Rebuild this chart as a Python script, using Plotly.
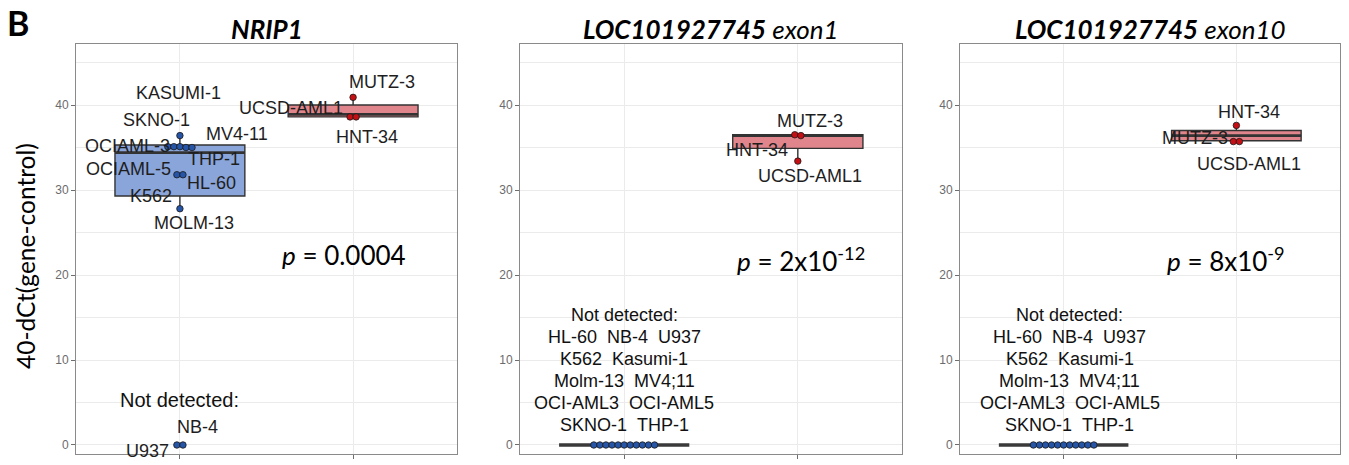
import numpy as np
import plotly.graph_objects as go

# ---------------- data ----------------
panel_genes = ["NRIP1", "LOC101927745", "LOC101927745"]
panel_regions = ["", "exon1", "exon10"]
p_labels = ["0.0004", "2x10<sup>-12</sup>", "8x10<sup>-9</sup>"]

# group 1 (blue) cell lines
blue_names = ["KASUMI-1", "SKNO-1", "OCIAML-3", "MV4-11", "THP-1", "K562",
              "OCIAML-5", "HL-60", "MOLM-13", "NB-4", "U937"]
nrip1_blue = [36.4, 35.1, 35.1, 35.1, 35.0, 35.0, 31.8, 31.8, 27.8, 0.0, 0.0]
exon1_blue = [0.0, 0.0, 0.0, 0.0, 0.0, 0.0, 0.0, 0.0, 0.0, 0.0, 0.0]
exon10_blue = [0.0, 0.0, 0.0, 0.0, 0.0, 0.0, 0.0, 0.0, 0.0, 0.0, 0.0]

# group 2 (red) cell lines
red_names = ["MUTZ-3", "UCSD-AML1", "HNT-34"]
nrip1_red = [40.9, 38.6, 38.6]
exon1_red = [36.5, 33.4, 36.4]
exon10_red = [35.7, 35.7, 37.6]

# box summaries: q1, median, q3, lower whisker, upper whisker
nrip1_blue_box = [29.3, 34.4, 35.3, 27.8, 36.4]
nrip1_red_box = [38.6, 38.9, 40.0, 38.6, 40.9]
exon1_blue_box = [0.0, 0.0, 0.0, 0.0, 0.0]
exon1_red_box = [34.9, 36.4, 36.5, 33.4, 36.5]
exon10_blue_box = [0.0, 0.0, 0.0, 0.0, 0.0]
exon10_red_box = [35.8, 36.4, 37.0, 35.7, 37.6]

not_detected_lines = ["HL-60  NB-4  U937", "K562  Kasumi-1", "Molm-13  MV4;11",
                      "OCI-AML3  OCI-AML5", "SKNO-1  THP-1"]

y_ticks = [0, 10, 20, 30, 40]
y_axis_title = "40-dCt(gene-control)"

panels = [
    dict(blue=nrip1_blue, red=nrip1_red, blue_box=nrip1_blue_box, red_box=nrip1_red_box),
    dict(blue=exon1_blue, red=exon1_red, blue_box=exon1_blue_box, red_box=exon1_red_box),
    dict(blue=exon10_blue, red=exon10_red, blue_box=exon10_blue_box, red_box=exon10_red_box),
]

# ---------------- label placement (pixel shifts from each point) ----------------
label_shift = [
    {  # NRIP1
        "KASUMI-1": (-1, 43), "SKNO-1": (-23, 27), "OCIAML-3": (-52, 1),
        "MV4-11": (57, 13), "THP-1": (34, -11), "K562": (-29, -48),
        "OCIAML-5": (-51, 6), "HL-60": (32, -8), "MOLM-13": (14, -14),
        "NB-4": (18, 18), "U937": (-32, -6),
        "MUTZ-3": (29, 15), "UCSD-AML1": (-62, 9), "HNT-34": (14, -20),
    },
    {"MUTZ-3": (12, 14), "HNT-34": (-41, -14), "UCSD-AML1": (12, -15)},
    {"HNT-34": (13, 13), "MUTZ-3": (-41, 4), "UCSD-AML1": (13, -22)},
]

# ---------------- layout geometry ----------------
W, H = 1349, 465
x_px = [(76, 457), (520, 902), (960, 1340)]
y_px = (44, 454)
x_range = [0.4, 2.6]
y_range = [-1.06, 47.18]
box_width = 0.75
dot_step = 0.035

BLUE_FILL = "#8aa5da"
RED_FILL = "#e0858b"
BLUE_DOT = "#2654a6"
RED_DOT = "#c40f14"
EDGE = "#333333"
GRID = "#ebebeb"
LABEL_FONT = "Liberation Sans, Arial, sans-serif"
HEAD_FONT = "Lato, Carlito, sans-serif"


def swarm_offsets(values, step, tol=0.5):
    """Spread points that share (almost) the same value side by side."""
    vals = np.asarray(values, dtype=float)
    order = np.argsort(-vals, kind="stable")
    offs = np.zeros(len(vals))
    groups, cur = [], [order[0]]
    for idx in order[1:]:
        if abs(vals[idx] - vals[cur[0]]) <= tol:
            cur.append(idx)
        else:
            groups.append(cur)
            cur = [idx]
    groups.append(cur)
    for g in groups:
        n = len(g)
        for k, idx in enumerate(g):
            offs[idx] = (k - (n - 1) / 2) * step
    return offs


fig = go.Figure()
annotations = []

for i, pdata in enumerate(panels):
    sfx = "" if i == 0 else str(i + 1)
    xa, ya = "x" + sfx, "y" + sfx

    for pos, stats, fill in [(1, pdata["blue_box"], BLUE_FILL),
                             (2, pdata["red_box"], RED_FILL)]:
        flat = stats[0] == stats[2]
        fig.add_trace(go.Box(
            x=[pos], q1=[stats[0]], median=[stats[1]], q3=[stats[2]],
            lowerfence=[stats[3]], upperfence=[stats[4]],
            width=box_width, fillcolor=fill,
            line=dict(color="#3a3a3a" if flat else EDGE, width=3.5 if flat else 1.4),
            whiskerwidth=0, boxpoints=False, showlegend=False, hoverinfo="skip",
            xaxis=xa, yaxis=ya,
        ))
        if not flat:
            # heavier median bar
            fig.add_trace(go.Scatter(
                x=[pos - box_width / 2, pos + box_width / 2], y=[stats[1], stats[1]],
                mode="lines", line=dict(color=EDGE, width=2.6),
                showlegend=False, hoverinfo="skip", xaxis=xa, yaxis=ya,
            ))

    for pos, names, vals, col in [(1, blue_names, pdata["blue"], BLUE_DOT),
                                  (2, red_names, pdata["red"], RED_DOT)]:
        offs = swarm_offsets(vals, dot_step)
        fig.add_trace(go.Scatter(
            x=pos + offs, y=vals, mode="markers",
            marker=dict(size=6.5, color=col, line=dict(color="#1a1a1a", width=0.8)),
            showlegend=False, hoverinfo="skip", xaxis=xa, yaxis=ya,
        ))
        for name, v in zip(names, vals):
            if name in label_shift[i]:
                dx, dy = label_shift[i][name]
                annotations.append(dict(
                    x=pos, y=v, xref=xa, yref=ya, text=name, showarrow=False,
                    xshift=dx, yshift=dy, xanchor="center", yanchor="middle",
                    font=dict(family=LABEL_FONT, size=18, color="#1e1e1e"),
                ))

    # "Not detected" notes
    if i == 0:
        annotations.append(dict(
            x=1, y=0, xref=xa, yref=ya, text="Not detected:", showarrow=False,
            yshift=45, xanchor="center", yanchor="middle",
            font=dict(family=LABEL_FONT, size=20, color="#111111"),
        ))
    else:
        lines = ["Not detected:"] + not_detected_lines
        n = len(lines)
        for k, line in enumerate(lines):
            annotations.append(dict(
                x=1, y=0, xref=xa, yref=ya, text=line.replace("  ", "\u00a0\u00a0"),
                showarrow=False, xshift=0 if i == 1 else 6,
                yshift=19.5 + 22 * (n - 1 - k), xanchor="center", yanchor="middle",
                font=dict(family=LABEL_FONT, size=18, color="#111111"),
            ))

    # p value
    px_pos = [(1.95, 22.4), (2.02, 21.8), (1.94, 21.8)][i]
    annotations.append(dict(
        x=px_pos[0], y=px_pos[1], xref=xa, yref=ya,
        text="<i>p</i> = " + p_labels[i], showarrow=False,
        xanchor="center", yanchor="middle",
        font=dict(family=HEAD_FONT, size=26, color="#000000"),
    ))

    # panel title
    title = "<b><i>%s</i></b>" % panel_genes[i]
    if panel_regions[i]:
        title += "<i> %s</i>" % panel_regions[i]
    x0, x1 = x_px[i]
    annotations.append(dict(
        x=(x0 + x1) / 2 / W, y=(H - 29) / H, xref="paper", yref="paper",
        text=title, showarrow=False, xanchor="center", yanchor="middle",
        font=dict(family=HEAD_FONT, size=26, color="#000000"),
    ))

    axis_common = dict(showline=True, mirror=True, linecolor="#8a8a8a", linewidth=1,
                       zeroline=False, ticks="outside", ticklen=4, tickcolor="#6e6e6e",
                       showgrid=True, gridcolor=GRID, gridwidth=1)
    fig.update_layout(**{
        "xaxis" + sfx: dict(domain=[x0 / W, x1 / W], range=x_range, tickvals=[1, 2],
                            showticklabels=False, anchor=ya, **axis_common),
        "yaxis" + sfx: dict(domain=[(H - y_px[1]) / H, (H - y_px[0]) / H], range=y_range,
                            tickvals=y_ticks, anchor=xa,
                            tickfont=dict(family=LABEL_FONT, size=12, color="#6b6b6b"),
                            minor=dict(dtick=5, tick0=0, showgrid=True, gridcolor=GRID,
                                       gridwidth=0.6, ticks=""),
                            **axis_common),
    })

annotations.append(dict(
    x=25 / W, y=(H - 256) / H, xref="paper", yref="paper", text=y_axis_title,
    textangle=-90, showarrow=False, xanchor="center", yanchor="middle",
    font=dict(family=HEAD_FONT, size=24.5, color="#000000"),
))
annotations.append(dict(
    x=18 / W, y=(H - 22) / H, xref="paper", yref="paper", text="<b>B</b>",
    showarrow=False, xanchor="center", yanchor="middle",
    font=dict(family=HEAD_FONT, size=34, color="#000000"),
))

fig.update_layout(
    width=W, height=H, margin=dict(l=0, r=0, t=0, b=0),
    paper_bgcolor="white", plot_bgcolor="white",
    annotations=annotations, showlegend=False, boxmode="overlay",
)

fig.write_html("out.html")
